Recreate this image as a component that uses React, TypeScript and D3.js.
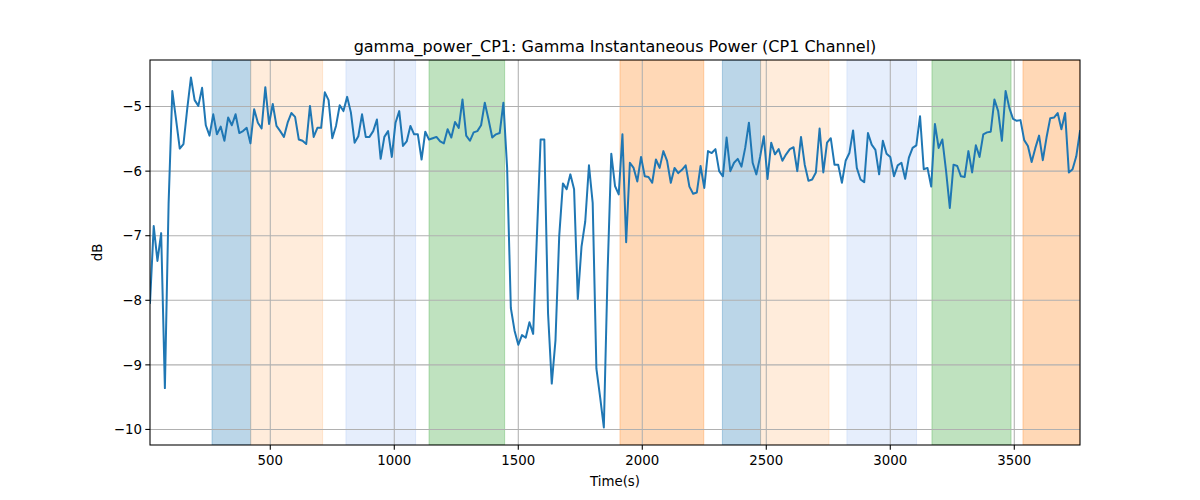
import React from "react";
import * as d3 from "d3";

const T0 = 15;
const STEP = 15;
const powerDb: number[] = [
  -8.04, -6.85, -7.39, -6.96, -9.36, -6.5, -4.76, -5.2, -5.65, -5.58,
  -5.04, -4.55, -4.9, -4.99, -4.71, -5.29, -5.45, -5.12, -5.43, -5.31,
  -5.53, -5.17, -5.29, -5.12, -5.41, -5.38, -5.33, -5.57, -5.04, -5.25,
  -5.34, -4.7, -5.27, -4.96, -5.3, -5.38, -5.47, -5.25, -5.1, -5.16,
  -5.51, -5.53, -5.58, -4.99, -5.47, -5.33, -5.33, -4.78, -4.9, -5.49,
  -5.3, -4.98, -5.07, -4.85, -5.09, -5.56, -5.46, -5.12, -5.47, -5.47,
  -5.38, -5.2, -5.81, -5.47, -5.38, -5.78, -5.25, -5.07, -5.61, -5.54,
  -5.3, -5.43, -5.43, -5.82, -5.39, -5.51, -5.49, -5.47, -5.54, -5.57,
  -5.35, -5.48, -5.24, -5.33, -4.89, -5.45, -5.53, -5.4, -5.38, -5.29,
  -4.94, -5.2, -5.48, -5.43, -5.41, -4.94, -5.95, -8.12, -8.47, -8.69,
  -8.54, -8.58, -8.34, -8.52, -7.01, -5.51, -5.51, -8.2, -9.29, -8.62,
  -7.01, -6.19, -6.28, -6.05, -6.28, -7.98, -7.17, -6.78, -5.91, -6.49,
  -9.06, -9.5, -9.97, -7.58, -5.73, -6.23, -6.36, -5.43, -7.1, -5.87,
  -5.95, -6.16, -5.78, -6.08, -6.09, -6.18, -5.82, -5.95, -5.69, -5.84,
  -6.18, -5.95, -6.03, -5.98, -5.91, -6.24, -6.35, -6.33, -5.92, -6.26,
  -5.69, -5.72, -5.66, -6.0, -6.08, -5.48, -6.0, -5.87, -5.81, -5.93,
  -5.64, -5.25, -5.87, -6.05, -5.78, -5.46, -6.12, -5.56, -5.74, -5.66,
  -5.84, -5.74, -5.66, -5.63, -6.0, -5.47, -5.9, -6.15, -6.13, -6.02,
  -5.34, -6.02, -5.56, -5.49, -5.9, -5.9, -6.18, -5.84, -5.72, -5.37,
  -5.95, -6.13, -6.17, -5.41, -5.59, -5.67, -6.05, -5.53, -5.73, -5.78,
  -6.08, -5.91, -5.87, -6.12, -5.79, -5.64, -5.6, -5.15, -5.97, -5.95,
  -6.24, -5.27, -5.64, -5.51, -6.0, -6.57, -5.9, -5.92, -6.08, -6.09,
  -5.69, -6.02, -5.6, -5.78, -5.43, -5.4, -5.39, -4.89, -5.07, -5.53,
  -4.76, -5.02, -5.19, -5.22, -5.21, -5.52, -5.61, -5.86, -5.64, -5.45,
  -5.83, -5.48, -5.18, -5.17, -5.1, -5.35, -5.1, -6.02, -5.97, -5.77,
  -5.38,
];

const bandStarts: number[] = [265, 421, 805, 1140, 1910, 2323, 2477, 2825, 3168, 3535];
const bandEnds: number[] = [421, 711, 1086, 1445, 2248, 2477, 2753, 3106, 3487, 3765];
const bandColors: string[] = [
  "#1f77b4", "#ff7f0e", "#6495ed", "#2ca02c", "#ff7f0e",
  "#1f77b4", "#ff7f0e", "#6495ed", "#2ca02c", "#ff7f0e",
];
const bandAlphas: number[] = [0.3, 0.15, 0.16, 0.3, 0.3, 0.3, 0.15, 0.16, 0.3, 0.3];

const xTicks: number[] = [500, 1000, 1500, 2000, 2500, 3000, 3500];
const yTicks: number[] = [-10, -9, -8, -7, -6, -5];

const TITLE = "gamma_power_CP1: Gamma Instantaneous Power (CP1 Channel)";
const X_LABEL = "Time(s)";
const Y_LABEL = "dB";

export default function App() {
  const W = 1200, H = 500;
  const L = 150, R = 1080, T = 60, B = 445;
  const times = powerDb.map((_, i) => T0 + i * STEP);
  const pts = powerDb.map((v, i) => [times[i], v] as [number, number]);

  const x = d3.scaleLinear().domain([times[0], times[times.length - 1]]).range([L, R]);
  const [ymin, ymax] = d3.extent(powerDb) as [number, number];
  const pad = (ymax - ymin) * 0.05;
  const y = d3.scaleLinear().domain([ymin - pad, ymax + pad]).range([B, T]);

  const line = d3.line<[number, number]>().x((d) => x(d[0])).y((d) => y(d[1]));
  const font = "DejaVu Sans, sans-serif";

  return (
    <svg width={W} height={H} style={{ position: "absolute", left: 0, top: 0 }} fontFamily={font}>
      <rect x={0} y={0} width={W} height={H} fill="#fff" />
      <defs>
        <clipPath id="plot">
          <rect x={L} y={T} width={R - L} height={B - T} />
        </clipPath>
      </defs>
      <g clipPath="url(#plot)">
        {bandStarts.map((s, i) => (
          <rect
            key={i}
            x={x(s)}
            y={T}
            width={x(bandEnds[i]) - x(s)}
            height={B - T}
            fill={bandColors[i]}
            fillOpacity={bandAlphas[i]}
            stroke={bandColors[i]}
            strokeOpacity={bandAlphas[i]}
            strokeWidth={1}
          />
        ))}
        {xTicks.map((t) => (
          <line key={"gx" + t} x1={x(t)} x2={x(t)} y1={T} y2={B} stroke="#b0b0b0" strokeWidth={1.07} />
        ))}
        {yTicks.map((t) => (
          <line key={"gy" + t} x1={L} x2={R} y1={y(t)} y2={y(t)} stroke="#b0b0b0" strokeWidth={1.07} />
        ))}
        <path d={line(pts) || ""} fill="none" stroke="#1f77b4" strokeWidth={2} strokeLinejoin="round" strokeLinecap="square" />
      </g>
      <rect x={L} y={T} width={R - L} height={B - T} fill="none" stroke="#000" strokeWidth={1.07} />
      {xTicks.map((t) => (
        <g key={"tx" + t}>
          <line x1={x(t)} x2={x(t)} y1={B} y2={B + 4.7} stroke="#000" strokeWidth={1.07} />
          <text x={x(t)} y={B + 20} textAnchor="middle" fontSize={13.33} fill="#000">
            {t}
          </text>
        </g>
      ))}
      {yTicks.map((t) => (
        <g key={"ty" + t}>
          <line x1={L - 4.7} x2={L} y1={y(t)} y2={y(t)} stroke="#000" strokeWidth={1.07} />
          <text x={L - 8} y={y(t)} dy="0.35em" textAnchor="end" fontSize={13.33} fill="#000">
            {"\u2212" + Math.abs(t)}
          </text>
        </g>
      ))}
      <text x={(L + R) / 2} y={52} textAnchor="middle" fontSize={16} fill="#000">
        {TITLE}
      </text>
      <text x={(L + R) / 2} y={486} textAnchor="middle" fontSize={13.33} fill="#000">
        {X_LABEL}
      </text>
      <text transform={`translate(102,${(T + B) / 2}) rotate(-90)`} textAnchor="middle" fontSize={13.33} fill="#000">
        {Y_LABEL}
      </text>
    </svg>
  );
}
